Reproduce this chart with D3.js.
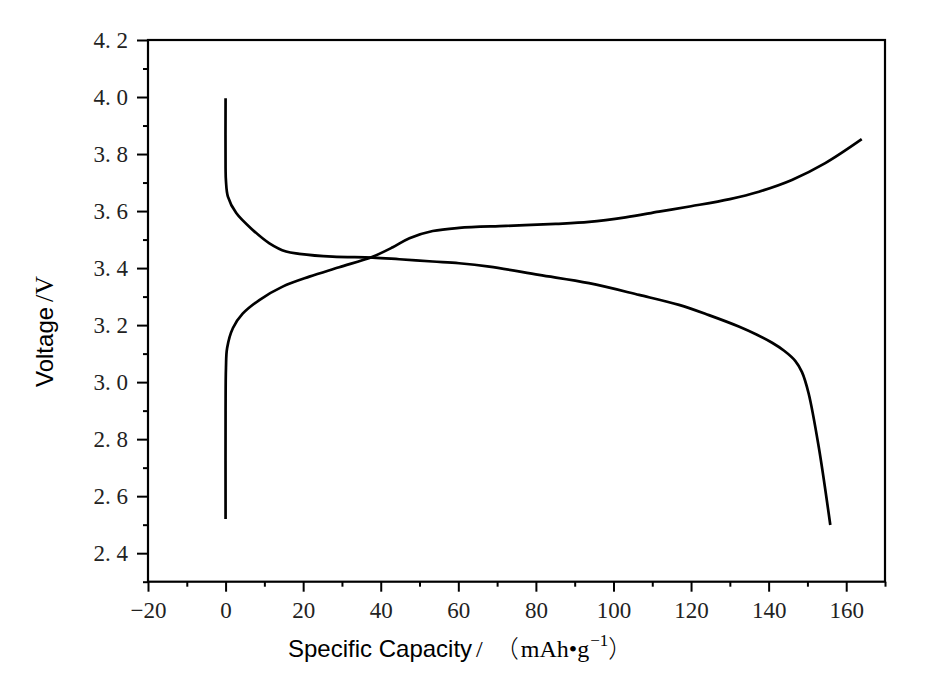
<!DOCTYPE html>
<html>
<head>
<meta charset="utf-8">
<script src="https://cdn.jsdelivr.net/npm/d3@7"></script>
<style>
  body { margin: 0; background: #fff; }
  svg { display: block; }
</style>
</head>
<body>
<script>
// charge curve (capacity mAh/g, voltage V)
var chargeCap = [0, 0, 0.1, 0.4, 1.9, 4.4, 8.7, 14.7, 21.6, 29.3, 37.9, 43.1, 47.4, 53.4, 60.2, 72.3, 85.1, 93.7, 103.1, 111.7, 120, 130, 137.5, 146, 154.6, 164];
var chargeV   = [2.52, 2.9, 3.05, 3.12, 3.19, 3.24, 3.288, 3.335, 3.37, 3.403, 3.44, 3.473, 3.505, 3.53, 3.541, 3.548, 3.555, 3.562, 3.578, 3.598, 3.617, 3.642, 3.668, 3.709, 3.768, 3.852];

// discharge curve
var dischargeCap = [0, 0, 0.1, 0.6, 2.75, 7.0, 11.3, 15.6, 19.0, 27.6, 37.9, 44.8, 53.4, 60.2, 68, 80.8, 93.7, 106.6, 116.9, 124.6, 132.3, 137, 140.9, 144, 146.9, 148.6, 150.3, 152.9, 155.9];
var dischargeV   = [3.996, 3.75, 3.705, 3.651, 3.593, 3.534, 3.487, 3.458, 3.45, 3.44, 3.437, 3.431, 3.423, 3.417, 3.405, 3.376, 3.347, 3.306, 3.271, 3.235, 3.195, 3.166, 3.138, 3.11, 3.074, 3.035, 2.961, 2.774, 2.499];

var xTicks = [-20, 0, 20, 40, 60, 80, 100, 120, 140, 160];
var xMinor = [-10, 10, 30, 50, 70, 90, 110, 130, 150, 170];
var yTicks = [2.4, 2.6, 2.8, 3.0, 3.2, 3.4, 3.6, 3.8, 4.0, 4.2];
var yMinor = [2.3, 2.5, 2.7, 2.9, 3.1, 3.3, 3.5, 3.7, 3.9, 4.1];

var W = 945, H = 682;
var padL = 148, padR = 885, padT = 40, padB = 581.7;

var svg = d3.select("body").append("svg")
  .attr("width", W).attr("height", H);

var x = d3.scaleLinear().domain([-20, 170]).range([padL, padR]);
var y = d3.scaleLinear().domain([2.3, 4.2]).range([padB, padT]);

var numFont = "'Liberation Serif', 'Times New Roman', serif";

// x axis
var gx = svg.append("g").attr("transform", "translate(0," + padB + ")");
gx.call(d3.axisBottom(x).tickValues(xTicks).tickSize(10).tickPadding(10)
    .tickFormat(function(d) { return d < 0 ? "\u2212" + Math.abs(d) : d; }));
gx.append("g").call(d3.axisBottom(x).tickValues(xMinor).tickSize(5).tickFormat(""));

// y axis
var gy = svg.append("g").attr("transform", "translate(" + padL + ",0)");
gy.call(d3.axisLeft(y).tickValues(yTicks).tickSize(11).tickPadding(9)
    .tickFormat(function(d) { return d3.format(".1f")(d).replace(".", ". "); }));
gy.append("g").call(d3.axisLeft(y).tickValues(yMinor).tickSize(5).tickFormat(""));

svg.selectAll(".domain").remove();
svg.selectAll(".tick line").attr("stroke", "#000").attr("stroke-width", 2);
svg.selectAll(".tick text")
  .attr("font-family", numFont)
  .attr("font-size", 23)
  .attr("fill", "#222")
  .style("white-space", "pre");

// frame
svg.append("rect")
  .attr("x", padL).attr("y", padT)
  .attr("width", padR - padL).attr("height", padB - padT)
  .attr("fill", "none").attr("stroke", "#000").attr("stroke-width", 2.2);

// curves
var line = d3.line()
  .x(function(d) { return x(d[0]); })
  .y(function(d) { return y(d[1]); })
  .curve(d3.curveCatmullRom.alpha(0.5));

var charge = chargeCap.map(function(c, i) { return [c, chargeV[i]]; });
var discharge = dischargeCap.map(function(c, i) { return [c, dischargeV[i]]; });

svg.selectAll(".curve")
  .data([charge, discharge])
  .enter()
  .append("path")
  .attr("class", "curve")
  .attr("d", line)
  .attr("fill", "none")
  .attr("stroke", "#000")
  .attr("stroke-width", 2.7)
  .attr("stroke-linejoin", "round");

// x title
var xt = svg.append("text")
  .attr("x", 288).attr("y", 657)
  .attr("font-size", 24)
  .attr("fill", "#000");
xt.append("tspan").attr("font-family", "'Liberation Sans', Arial, sans-serif").text("Specific Capacity");
xt.append("tspan").attr("font-family", numFont).attr("dx", 4).text("/");
xt.append("tspan").attr("font-family", "'Noto Sans CJK SC', sans-serif").attr("font-weight", 300).attr("font-size", 24).attr("dx", 12).text("\uFF08");
xt.append("tspan").attr("font-family", numFont).attr("font-size", 24).attr("dx", 2).text("mAh");
xt.append("tspan").attr("font-family", numFont).attr("font-size", 24).text("\u2022");
xt.append("tspan").attr("font-family", numFont).attr("font-size", 24).text("g");
xt.append("tspan").attr("font-family", numFont).attr("font-size", 17).attr("dx", 1).attr("dy", -11).text("\u22121");
xt.append("tspan").attr("font-family", "'Noto Sans CJK SC', sans-serif").attr("font-weight", 300).attr("font-size", 24).attr("dy", 11).text("\uFF09");

// y title
var yt = svg.append("text")
  .attr("transform", "translate(53,387) rotate(-90)")
  .attr("font-size", 24)
  .attr("fill", "#000");
yt.append("tspan").attr("font-family", "'Liberation Sans', Arial, sans-serif").text("Voltage");
yt.append("tspan").attr("font-family", numFont).attr("font-size", 26).attr("dx", 5).text("/V");
</script>
</body>
</html>
